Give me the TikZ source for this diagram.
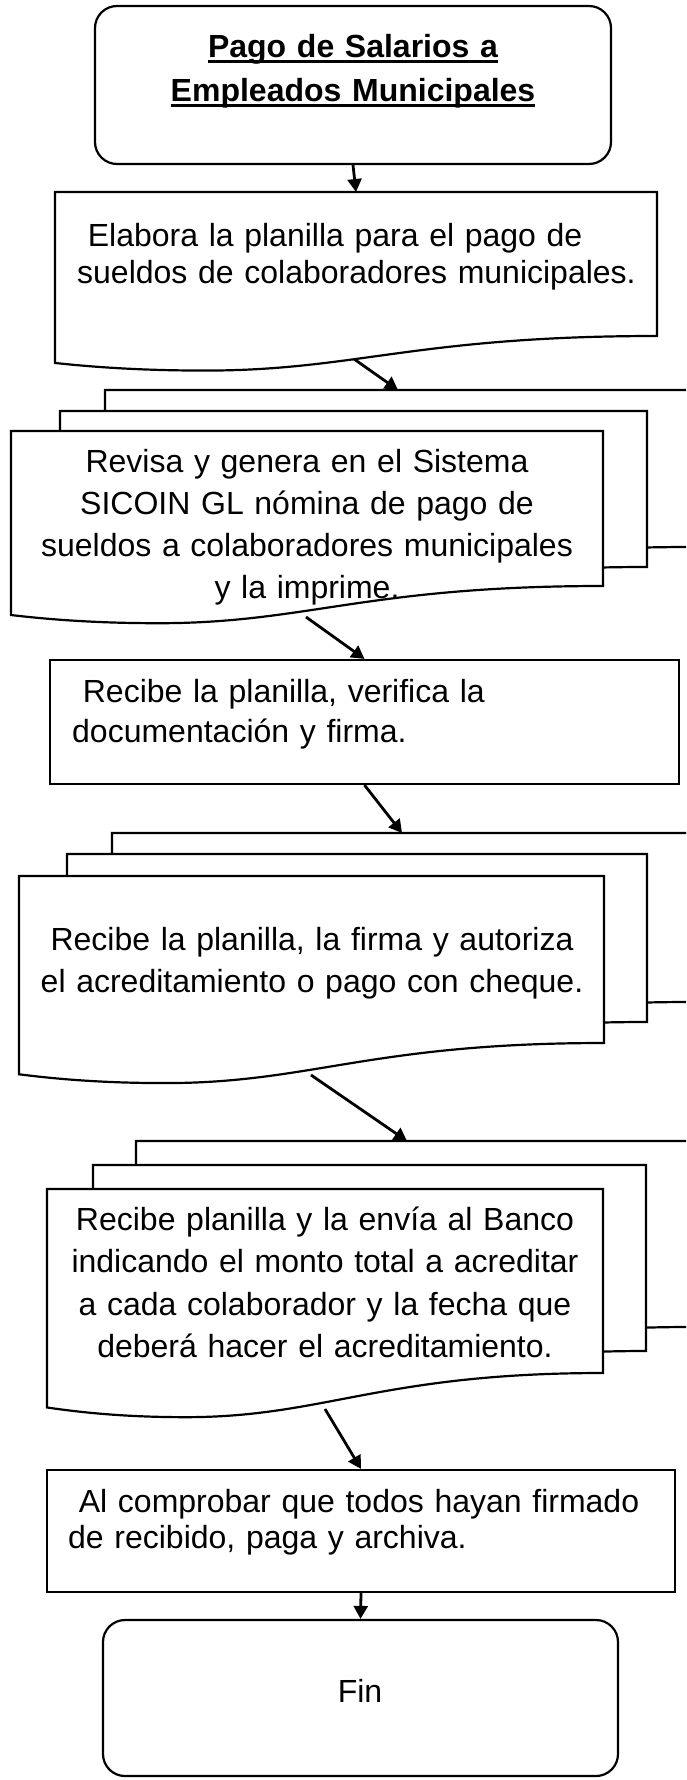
\documentclass[tikz,border=0pt]{standalone}
\usepackage{fontspec}
\setmainfont{Liberation Sans}
\usetikzlibrary{arrows.meta}

% underlined title line
\newsavebox{\ulbox}
\newcommand{\ulin}[1]{\leavevmode\sbox{\ulbox}{#1}\rlap{\rule[-5.5pt]{\wd\ulbox}{2.5pt}}\usebox{\ulbox}}

% document sheet: left, top, right, bottom at the right end
\newcommand{\docsheet}[4]{%
  \pgfmathsetmacro{\dW}{#3-#1}%
  \pgfmathsetmacro{\dD}{0.24*(#4-#2)}%
  \filldraw[sheet] (#1,#2) -- (#3,#2) -- (#3,#4)
    .. controls ({#1+0.6*\dW},#4) and ({#1+0.5*\dW},{#4+\dD}) .. ({#1+0.25*\dW},{#4+\dD})
    .. controls ({#1+0.16*\dW},{#4+\dD}) and ({#1+0.08*\dW},{#4+0.93*\dD}) .. (#1,{#4+0.78*\dD}) -- cycle;}

\begin{document}
\begin{tikzpicture}[x=1pt, y=-1pt,
  sheet/.style={draw, fill=white, line width=2.2pt},
  term/.style={draw, rounded corners=22pt, line width=2.2pt, inner sep=0pt},
  proc/.style={draw, line width=2.2pt, inner sep=0pt},
  txt/.style={inner sep=0pt, text width=#1},
  lead/.style={font=\fontsize{32}{#1}\selectfont},
  flow/.style={-{Triangle[length=13pt,width=14pt]}, line width=2.8pt}]
  \useasboundingbox (0,0) rectangle (686,1780);
  \clip (0,0) rectangle (686,1780);

  % inicio
  \node[term, minimum width=516pt, minimum height=158pt] (inicio) at (353,85) {};
  \node[txt=500pt, align=center, anchor=base, font=\bfseries\fontsize{32}{44}\selectfont] (titulo) at (353,57)
    {\ulin{Pago de Salarios a}\\\ulin{Empleados Municipales}};

  % elabora
  \docsheet{55}{192}{657}{336}
  \node[txt=590pt, align=left, anchor=base west, lead=37pt] (elabora) at (77,246)
    {\ Elabora la planilla para el pago de\\sueldos de colaboradores municipales.};

  % revisa (multiple sheets)
  \docsheet{105}{390}{691}{547}
  \docsheet{60}{411}{647}{567}
  \docsheet{11}{431}{603}{586}
  \node[txt=580pt, align=center, anchor=base, lead=42.3pt] (revisa) at (307,472)
    {Revisa y genera en el Sistema\\SICOIN GL nómina de pago de\\sueldos a colaboradores municipales\\y la imprime.};

  % verifica
  \node[proc, minimum width=629pt, minimum height=124pt] (verifica) at (364.5,722) {};
  \node[txt=590pt, align=left, anchor=base west, lead=40pt] (verificatxt) at (72,702)
    {\ Recibe la planilla, verifica la\\documentación y firma.};

  % autoriza (multiple sheets)
  \docsheet{112}{833}{690}{1002}
  \docsheet{67}{854}{647}{1022}
  \docsheet{19}{876}{604}{1043}
  \node[txt=580pt, align=center, anchor=base, lead=42pt] (autoriza) at (312,950)
    {Recibe la planilla, la firma y autoriza\\el acreditamiento o pago con cheque.};

  % envia (multiple sheets)
  \docsheet{136}{1141}{690}{1327}
  \docsheet{93}{1165}{646}{1351}
  \docsheet{47}{1189}{603}{1373}
  \node[txt=550pt, align=center, anchor=base, lead=42.5pt] (envia) at (325,1230)
    {Recibe planilla y la envía al Banco\\indicando el monto total a acreditar\\a cada colaborador y la fecha que\\deberá hacer el acreditamiento.};

  % comprueba
  \node[proc, minimum width=628pt, minimum height=122pt] (comprueba) at (361,1531) {};
  \node[txt=600pt, align=left, anchor=base west, lead=36pt] (compruebatxt) at (68,1512)
    {\ Al comprobar que todos hayan firmado\\de recibido, paga y archiva.};

  % fin
  \node[term, minimum width=515pt, minimum height=156pt] (fin) at (360.5,1698) {};
  \node[lead=32pt, anchor=base, inner sep=0pt] (fintxt) at (360,1702) {Fin};

  % connectors
  \coordinate (elabora-in) at (356,192);
  \coordinate (elabora-out) at (354,359);
  \coordinate (revisa-in) at (398,390);
  \coordinate (revisa-out) at (306,617);
  \coordinate (autoriza-in) at (402,833);
  \coordinate (autoriza-out) at (311,1075);
  \coordinate (envia-in) at (407,1141);
  \coordinate (envia-out) at (325,1409);
  \draw[flow] (inicio.south) -- (elabora-in);
  \draw[flow] (elabora-out) -- (revisa-in);
  \draw[flow] (revisa-out) -- (verifica.north);
  \draw[flow] (verifica.south) -- (autoriza-in);
  \draw[flow] (autoriza-out) -- (envia-in);
  \draw[flow] (envia-out) -- (comprueba.north);
  \draw[flow] (comprueba.south) -- (fin.north);
\end{tikzpicture}
\end{document}
